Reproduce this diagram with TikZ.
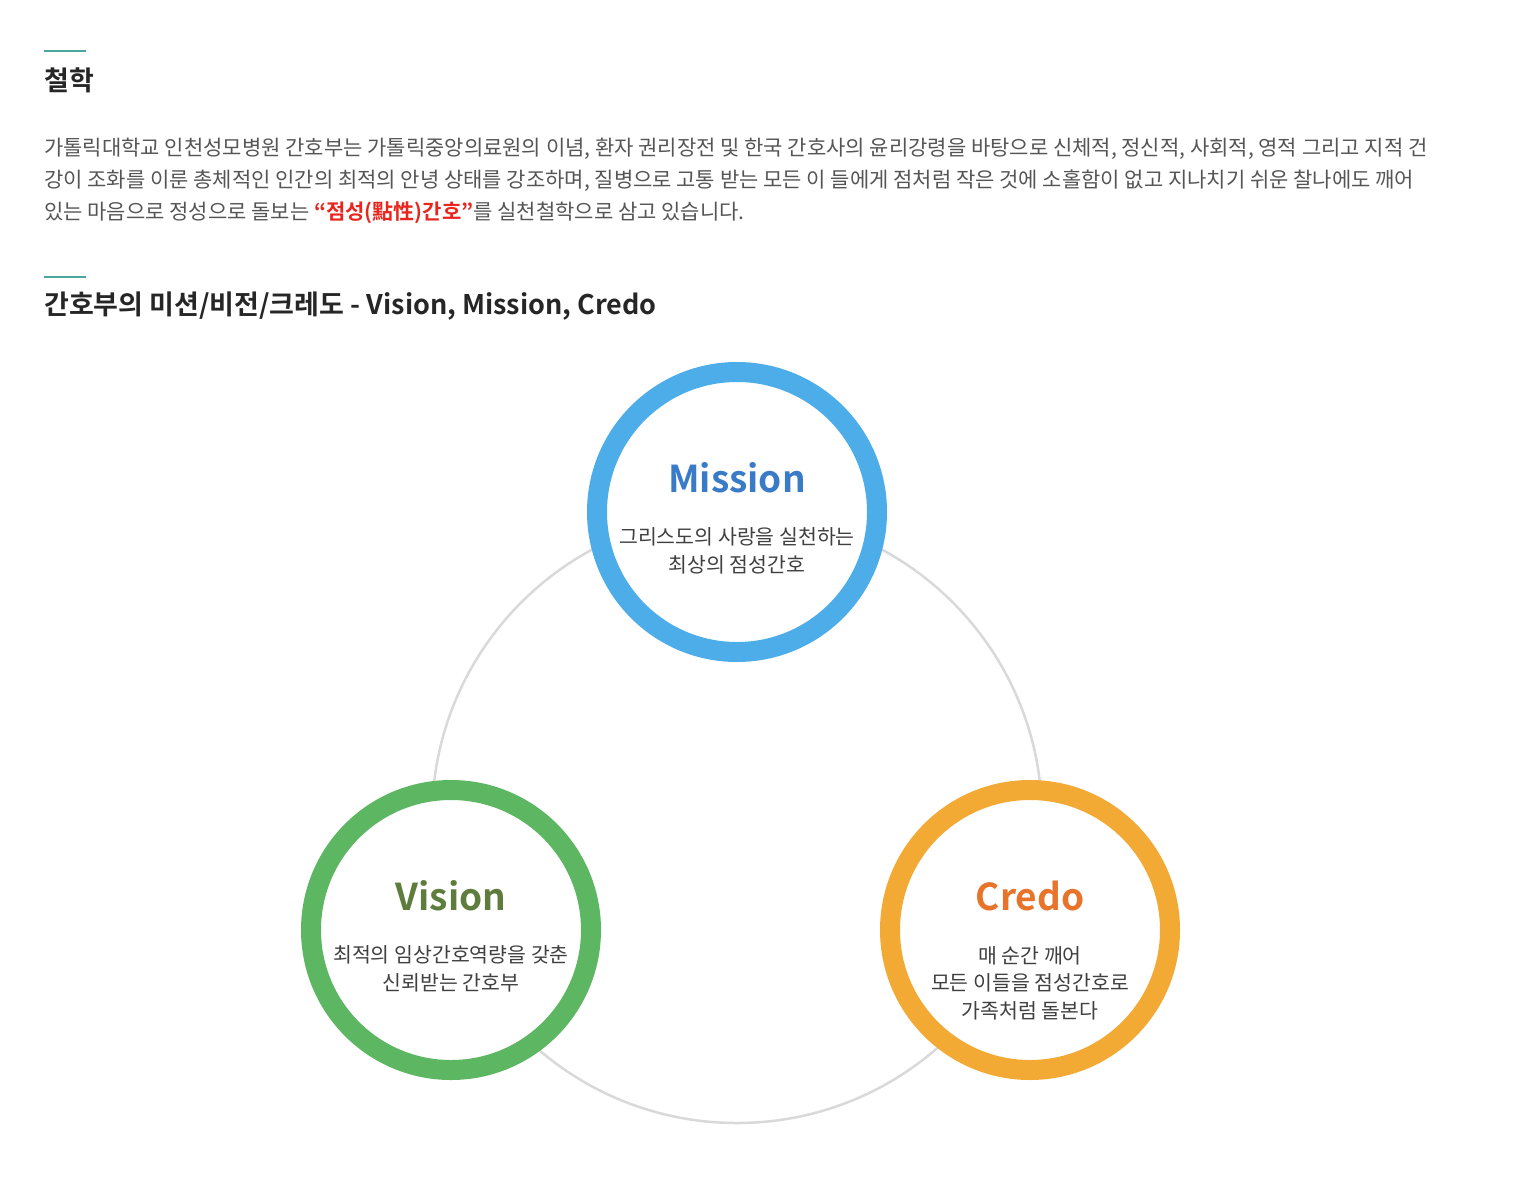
\documentclass[tikz,border=0pt]{standalone}
\usepackage{fontspec}
\setmainfont{Noto Sans CJK KR}
\newfontfamily\krbold{Noto Sans CJK KR Bold}
\definecolor{teal}{HTML}{4BA59C}
\definecolor{bodygray}{HTML}{555555}
\definecolor{accentred}{HTML}{E8261E}
\definecolor{misblue}{HTML}{4CADE9}
\definecolor{vigreen}{HTML}{5DB762}
\definecolor{crorange}{HTML}{F2AA34}
\definecolor{mistitle}{HTML}{3A7BC8}
\definecolor{vititle}{HTML}{5E7D3C}
\definecolor{crtitle}{HTML}{E8742B}
\tikzset{
  ring/.style={circle,minimum size=280pt,line width=20pt,fill=white,draw=#1},
  body/.style={anchor=west,inner sep=0,text=bodygray,font=\fontsize{21}{24}\selectfont},
  heading/.style={anchor=west,inner sep=0,text=black!85,font=\krbold\fontsize{27}{30}\selectfont},
  title/.style={inner sep=0,font=\krbold\fontsize{37}{40}\selectfont},
  inner/.style={inner sep=0,align=center,text=black!75,font=\fontsize{20.5}{27.5}\selectfont}
}
\begin{document}
\begin{tikzpicture}[x=1pt,y=-1pt]
  \useasboundingbox (0,0) rectangle (1514,1180);
  % first section
  \draw [teal,line width=2.5pt] (44,51) -- (86,51);
  \node [heading] (philo) at (44,80) {철학};
  \node [body] (line1) at (44,149) {가톨릭대학교 인천성모병원 간호부는 가톨릭중앙의료원의 이념, 환자 권리장전 및 한국 간호사의 윤리강령을 바탕으로 신체적, 정신적, 사회적, 영적 그리고 지적 건};
  \node [body] (line2) at (44,181) {강이 조화를 이룬 총체적인 인간의 최적의 안녕 상태를 강조하며, 질병으로 고통 받는 모든 이 들에게 점처럼 작은 것에 소홀함이 없고 지나치기 쉬운 찰나에도 깨어};
  \node [body] (line3) at (44,213) {있는 마음으로 정성으로 돌보는 {\krbold\color{accentred}“점성(點性)간호”}를 실천철학으로 삼고 있습니다.};
  % second section
  \draw [teal,line width=2.5pt] (44,277) -- (86,277);
  \node [heading] (vmc) at (44,306) {간호부의 미션/비전/크레도 - Vision, Mission, Credo};
  % diagram
  \draw [black!15,line width=2.5pt] (737,818) circle (305);
  \node [ring=misblue] (mission) at (737,512) {};
  \node [ring=vigreen] (vision) at (451,930) {};
  \node [ring=crorange] (credo) at (1030,930) {};
  \node [title,text=mistitle] (mistxt) at (737,478) {Mission};
  \node [inner] (misdesc) at (737,551) {그리스도의 사랑을 실천하는\\최상의 점성간호};
  \node [title,text=vititle] (vitxt) at (451,896) {Vision};
  \node [inner] (videsc) at (451,969) {최적의 임상간호역량을 갖춘\\신뢰받는 간호부};
  \node [title,text=crtitle] (crtxt) at (1030,896) {Credo};
  \node [inner] (crdesc) at (1030,983) {매 순간 깨어\\모든 이들을 점성간호로\\가족처럼 돌본다};
\end{tikzpicture}
\end{document}
